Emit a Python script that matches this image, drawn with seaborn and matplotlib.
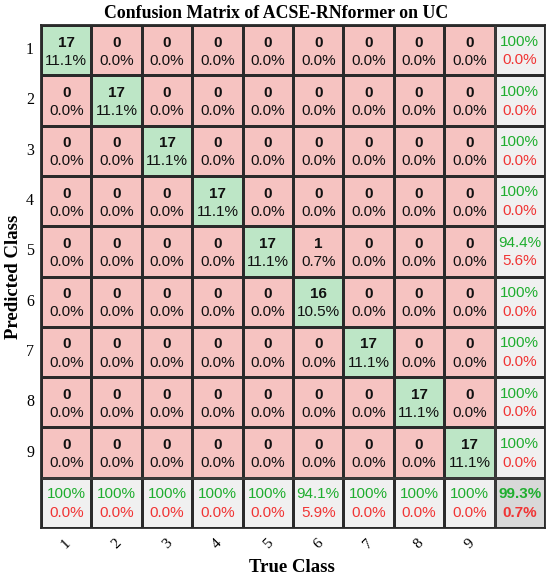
import matplotlib.pyplot as plt
import numpy as np
import seaborn as sns
from matplotlib.colors import ListedColormap

# confusion counts: rows = predicted class, columns = true class
classes = ["1", "2", "3", "4", "5", "6", "7", "8", "9"]
counts = np.array([
    [17, 0, 0, 0, 0, 0, 0, 0, 0],
    [0, 17, 0, 0, 0, 0, 0, 0, 0],
    [0, 0, 17, 0, 0, 0, 0, 0, 0],
    [0, 0, 0, 17, 0, 0, 0, 0, 0],
    [0, 0, 0, 0, 17, 1, 0, 0, 0],
    [0, 0, 0, 0, 0, 16, 0, 0, 0],
    [0, 0, 0, 0, 0, 0, 17, 0, 0],
    [0, 0, 0, 0, 0, 0, 0, 17, 0],
    [0, 0, 0, 0, 0, 0, 0, 0, 17],
])
title = "Confusion Matrix of ACSE-RNformer on UC"

n = len(classes)
total = counts.sum()

# colour codes for each cell: 0 wrong, 1 correct, 2 summary, 3 overall
codes = np.zeros((n + 1, n + 1))
codes[np.arange(n), np.arange(n)] = 1
codes[n, :] = 2
codes[:, n] = 2
codes[n, n] = 3
cmap = ListedColormap(["#f6c3c1", "#bde6c6", "#f0f0f0", "#d8d8d8"])

fig = plt.figure(figsize=(5.5, 5.81), dpi=100)
ax = fig.add_axes([41 / 550, 1 - 528 / 581, 504 / 550, 503 / 581])
sns.heatmap(codes, cmap=cmap, vmin=-0.5, vmax=3.5, cbar=False, annot=False,
            linewidths=0.8, linecolor="#2a2a2a", square=False, ax=ax)

sans = "Liberation Sans"
serif = "Liberation Serif"
green = "#1fae2f"
red = "#f03434"
fs = 11

for i in range(n):
    for j in range(n):
        c = counts[i, j]
        ax.text(j + 0.5, i + 0.35, f"{c}", ha="center", va="center",
                fontsize=fs, fontweight="bold", family=sans, color="#111111")
        ax.text(j + 0.5, i + 0.71, f"{100 * c / total:.1f}%", ha="center", va="center",
                fontsize=fs, family=sans, color="#111111")


def fmt(p):
    return "100%" if round(p, 1) == 100 else f"{p:.1f}%"


# row summaries (precision)
for i in range(n):
    p = 100 * counts[i, i] / counts[i, :].sum()
    ax.text(n + 0.5, i + 0.33, fmt(p), ha="center", va="center", fontsize=fs, family=sans, color=green)
    ax.text(n + 0.5, i + 0.70, f"{100 - p:.1f}%", ha="center", va="center", fontsize=fs, family=sans, color=red)

# column summaries (recall)
for j in range(n):
    p = 100 * counts[j, j] / counts[:, j].sum()
    ax.text(j + 0.5, n + 0.33, fmt(p), ha="center", va="center", fontsize=fs, family=sans, color=green)
    ax.text(j + 0.5, n + 0.70, f"{100 - p:.1f}%", ha="center", va="center", fontsize=fs, family=sans, color=red)

acc = 100 * np.trace(counts) / total
ax.text(n + 0.5, n + 0.33, f"{acc:.1f}%", ha="center", va="center", fontsize=fs,
        fontweight="bold", family=sans, color=green)
ax.text(n + 0.5, n + 0.70, f"{100 - acc:.1f}%", ha="center", va="center", fontsize=fs,
        fontweight="bold", family=sans, color=red)

# thicker separators around the summary row / column and outer frame
ax.plot([n, n], [0, n + 1], color="#3a3a3a", lw=1.8)
ax.plot([0, n + 1], [n, n], color="#3a3a3a", lw=1.8)
for s in ax.spines.values():
    s.set_visible(True)
    s.set_color("#2a2a2a")
    s.set_linewidth(1.3)

ax.set_xticks(np.arange(n) + 0.5)
ax.set_xticklabels(classes, rotation=45, fontsize=11, family=serif)
ax.set_yticks(np.arange(n) + 0.5)
ax.set_yticklabels(classes, rotation=0, fontsize=11.5, family=serif)
ax.tick_params(axis="x", length=0, pad=6)
ax.tick_params(axis="y", length=0, pad=5)

fig.text(276 / 550, 1 - 14 / 581, title, ha="center", va="center",
         fontsize=12.8, fontweight="bold", family=serif)
fig.text(292 / 550, 1 - 568 / 581, "True Class", ha="center", va="center",
         fontsize=13.5, fontweight="bold", family=serif)
fig.text(14 / 550, 1 - 277 / 581, "Predicted Class", ha="center", va="center",
         rotation=90, fontsize=13.5, fontweight="bold", family=serif)

fig.savefig("out.png", dpi=100)
